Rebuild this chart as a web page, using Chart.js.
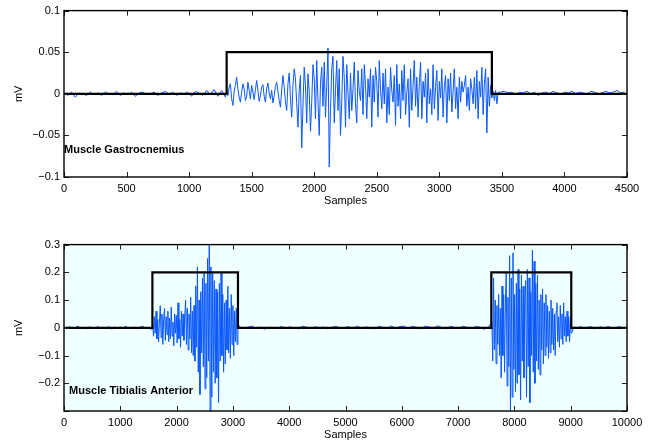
<!DOCTYPE html>
<html>
<head>
<meta charset="utf-8">
<script src="https://cdn.jsdelivr.net/npm/chart.js@4.4.0/dist/chart.umd.min.js"></script>
<style>
  html, body { margin: 0; padding: 0; background: #fff; overflow: hidden; width: 651px; height: 443px; }
  canvas { position: absolute; left: 0; }
  #top { top: 0; }
  #bottom { top: 234px; }
</style>
</head>
<body>
<canvas id="top" width="651" height="215"></canvas>
<canvas id="bottom" width="651" height="215"></canvas>
<script>
// ---- Muscle Gastrocnemius (mV), sampled segments ----
const gastroPreStart = 0, gastroPreStep = 30;
const gastroPre = [
  0.001, -0.002, 0.002, -0.004, 0.001, 0.000, -0.002, 0.002, -0.001, 0.001,
  -0.002, 0.002, 0.000, -0.001, 0.003, -0.002, 0.001, -0.001, 0.002, -0.003,
  0.001, 0.002, -0.001, 0.000, 0.002, -0.002, 0.001, 0.003, -0.001, 0.002,
  -0.002, 0.001, 0.000, 0.002, -0.003, 0.003, 0.001, -0.002, 0.004, -0.001,
  0.005, -0.003, 0.004, -0.004
];
const gastroBurstStart = 1300, gastroBurstStep = 10;
const gastroBurst = [
  0.004, -0.002, 0.008, 0.012, -0.006, -0.014, 0.003, 0.010, 0.020, 0.006,
  -0.004, -0.010, 0.002, 0.012, 0.006, -0.008, -0.003, 0.014, 0.004, -0.006,
  0.010, 0.002, -0.007, 0.005, 0.016, 0.004, -0.009, -0.002, 0.008, 0.011,
  -0.003, -0.010, 0.006, 0.013, 0.001, -0.006, 0.004, -0.011, -0.002, 0.009,
  0.014, 0.003, -0.008, -0.016, 0.005, 0.022, 0.008, -0.010, -0.020, 0.012,
  0.025, -0.005, -0.028, 0.010, 0.030, 0.018, -0.012, -0.040, 0.004, 0.022,
  -0.065, -0.015, 0.032, 0.010, -0.035, 0.024, 0.002, -0.045, -0.010, 0.035,
  0.018, -0.030, 0.040, -0.008, -0.050, 0.012, 0.032, -0.015, 0.038, -0.028,
  0.010, 0.055, -0.088, -0.020, 0.030, 0.045, -0.035, 0.005, 0.040, -0.020,
  0.030, -0.050, -0.010, 0.045, 0.020, -0.040, 0.035, 0.002, -0.030, 0.025,
  -0.020, 0.006, 0.038, -0.012, -0.035, 0.028, 0.003, -0.008, 0.030, -0.025,
  0.035, 0.010, -0.030, 0.018, -0.004, 0.030, -0.040, 0.022, -0.010, 0.032,
  0.015, -0.028, 0.040, 0.005, -0.018, 0.025, -0.012, 0.030, -0.035, 0.008,
  -0.025, 0.032, 0.004, -0.010, 0.022, -0.038, 0.035, -0.015, 0.012, -0.030,
  0.028, -0.008, 0.035, -0.025, 0.002, 0.018, -0.040, 0.030, -0.020, 0.010,
  0.040, -0.015, 0.020, -0.028, 0.012, 0.038, -0.030, 0.015, -0.004, 0.025,
  -0.035, 0.030, -0.012, 0.006, -0.025, 0.035, -0.018, 0.008, 0.028, -0.032,
  0.015, -0.005, 0.030, -0.028, 0.010, 0.022, -0.035, 0.018, -0.008, 0.025,
  -0.022, 0.004, 0.030, -0.018, 0.008, -0.030, 0.020, -0.010, 0.015, 0.002,
  0.010, 0.022, -0.015, 0.008, -0.020, 0.018, 0.005, -0.012, 0.020, -0.018,
  0.028, -0.030, 0.015, -0.004, 0.032, -0.025, 0.012, 0.030, -0.047, 0.020,
  -0.015, 0.010, -0.005, 0.003, -0.008, 0.004, -0.012, 0.002
];
const gastroPostStart = 3490, gastroPostStep = 30;
const gastroPost = [
  0.002, 0.003, 0.001, 0.002, -0.001, 0.002, 0.001, 0.003, 0.000, 0.002,
  -0.002, 0.001, 0.002, 0.000, 0.003, 0.001, -0.001, 0.002, 0.001, 0.003,
  0.000, 0.002, 0.001, -0.001, 0.003, 0.002, 0.000, 0.001, 0.003, 0.001,
  0.002, 0.004, 0.001, 0.002
];
const gastroEnvX = [0, 1300, 1300, 3420, 3420, 4500];
const gastroEnvY = [0, 0, 0.05, 0.05, 0, 0];

// ---- Muscle Tibialis Anterior (mV) ----
const tibPreStart = 0, tibPreStep = 50;
const tibPre = [
  0.002, -0.003, 0.004, -0.002, 0.001, 0.006, -0.003, 0.002, -0.004, 0.003,
  0.001, -0.002, 0.005, -0.003, 0.002, 0.000, 0.004, -0.005, 0.002, -0.001,
  0.003, -0.002, 0.006, -0.003, 0.001, 0.002, -0.004, 0.003, 0.005, -0.002,
  0.001, -0.006
];
const tibBurst1Start = 1575, tibBurst1Step = 15;
const tibBurst1 = [
  0.010, -0.030, 0.040, -0.020, 0.060, -0.040, 0.030, -0.050, 0.020, 0.080,
  -0.035, 0.050, -0.060, 0.030, 0.070, -0.045, 0.040, -0.025, 0.060, -0.050,
  0.035, -0.040, 0.075, -0.030, 0.020, -0.065, 0.050, -0.020, 0.045, -0.055,
  0.090, -0.040, 0.030, -0.070, 0.060, -0.030, 0.050, -0.045, 0.035, 0.100,
  -0.060, 0.070, -0.080, 0.050, -0.040, 0.110, -0.090, 0.060, -0.100, 0.080,
  -0.120, 0.150, -0.070, 0.220, -0.160, 0.100, -0.240, 0.130, -0.090, 0.180,
  -0.140, 0.200, -0.220, 0.160, -0.180, 0.250, -0.120, 0.300, -0.300, 0.220,
  -0.250, 0.200, -0.160, 0.170, -0.200, 0.140, -0.180, 0.130, -0.270, 0.160,
  -0.120, 0.200, -0.100, 0.120, -0.160, 0.090, -0.130, 0.100, -0.080, 0.150,
  -0.090, 0.070, -0.110, 0.120, -0.060, 0.080, -0.100, 0.060, -0.050, 0.070,
  -0.060, 0.020
];
const tibMidStart = 3110, tibMidStep = 75;
const tibMid = [
  0.004, -0.003, 0.002, 0.006, -0.002, 0.003, -0.005, 0.002, 0.001, -0.003,
  0.005, -0.002, 0.003, 0.000, -0.004, 0.006, 0.002, -0.003, 0.004, -0.001,
  0.003, -0.004, 0.002, 0.005, -0.002, 0.001, 0.004, -0.003, 0.006, -0.002,
  0.003, 0.001, -0.004, 0.005, 0.002, -0.003, 0.007, -0.002, 0.004, 0.006,
  -0.003, 0.005, 0.002, -0.004, 0.006, 0.003, -0.002, 0.007, 0.001, -0.004,
  0.005, 0.002, -0.003, 0.006, 0.001, -0.002, 0.004, 0.003, -0.005, 0.002
];
const tibBurst2Start = 7600, tibBurst2Step = 15;
const tibBurst2 = [
  0.020, -0.120, 0.180, -0.080, 0.100, -0.130, 0.080, -0.060, 0.120, -0.100,
  0.070, -0.180, 0.150, -0.100, 0.120, -0.160, 0.090, 0.200, -0.210, 0.110,
  -0.140, 0.260, -0.300, 0.180, -0.250, 0.270, -0.150, 0.120, -0.230, 0.160,
  -0.200, 0.210, -0.170, 0.140, -0.260, 0.190, -0.120, 0.150, -0.180, 0.100,
  0.170, -0.250, 0.210, -0.140, 0.180, -0.270, 0.130, -0.100, 0.280, -0.160,
  0.240, -0.200, 0.160, -0.120, 0.190, -0.150, 0.100, -0.170, 0.120, -0.080,
  0.140, -0.130, 0.090, -0.100, 0.120, -0.070, 0.080, -0.110, 0.060, -0.090,
  0.100, -0.060, 0.070, -0.080, 0.050, -0.100, 0.060, 0.090, -0.050, 0.040,
  -0.070, 0.080, -0.040, 0.050, -0.060, 0.090, -0.030, 0.040, -0.050, 0.060,
  -0.030, 0.040, -0.050, 0.030, -0.020
];
const tibPostStart = 9060, tibPostStep = 60;
const tibPost = [
  0.003, -0.002, 0.005, -0.003, 0.002, 0.004, -0.004, 0.001,
  0.003, -0.002, 0.005, 0.000, -0.003, 0.004, 0.002, -0.001
];
const tibEnvX = [0, 1570, 1570, 3090, 3090, 7590, 7590, 9010, 9010, 10000];
const tibEnvY = [0, 0, 0.2, 0.2, 0, 0, 0.2, 0.2, 0, 0];

const gastroXTicks = { min: 0, max: 4500, step: 500 };
const gastroYTicks = { min: -0.1, max: 0.1, step: 0.05 };
const tibXTicks = { min: 0, max: 10000, step: 1000 };
const tibYTicks = { min: -0.3, max: 0.3, step: 0.1 };

// helpers
function segment(start, step, values) {
  return values.map((v, i) => ({ x: start + i * step, y: v }));
}
function envelope(xs, ys) {
  return xs.map((x, i) => ({ x: x, y: ys[i] }));
}

Chart.defaults.font.family = '"Liberation Sans", Arial, Helvetica, sans-serif';
Chart.defaults.font.size = 11;
Chart.defaults.color = '#000';

// matlab-like box: background, inward ticks on all sides, border, text label
const matlabAxes = {
  id: 'matlabAxes',
  beforeDraw(chart, args, opts) {
    const a = chart.chartArea;
    if (opts.background) {
      chart.ctx.save();
      chart.ctx.fillStyle = opts.background;
      chart.ctx.fillRect(a.left, a.top, a.right - a.left, a.bottom - a.top);
      chart.ctx.restore();
    }
  },
  afterDraw(chart, args, opts) {
    const ctx = chart.ctx;
    const a = chart.chartArea;
    const xs = chart.scales.x, ys = chart.scales.y;
    const len = 5;
    ctx.save();
    ctx.strokeStyle = '#222';
    ctx.lineWidth = 1;
    ctx.beginPath();
    xs.ticks.forEach(t => {
      const px = Math.round(xs.getPixelForValue(t.value)) + 0.5;
      ctx.moveTo(px, a.bottom); ctx.lineTo(px, a.bottom - len);
      ctx.moveTo(px, a.top); ctx.lineTo(px, a.top + len);
    });
    ys.ticks.forEach(t => {
      const py = Math.round(ys.getPixelForValue(t.value)) + 0.5;
      ctx.moveTo(a.left, py); ctx.lineTo(a.left + len, py);
      ctx.moveTo(a.right, py); ctx.lineTo(a.right - len, py);
    });
    ctx.stroke();
    ctx.strokeStyle = '#000';
    ctx.lineWidth = 1.4;
    ctx.strokeRect(a.left, a.top, a.right - a.left, a.bottom - a.top);
    if (opts.label) {
      ctx.font = 'bold 11px "Liberation Sans", Arial, sans-serif';
      ctx.fillStyle = '#000';
      ctx.textBaseline = 'middle';
      ctx.textAlign = 'left';
      ctx.fillText(opts.label, xs.getPixelForValue(opts.labelX), ys.getPixelForValue(opts.labelY));
    }
    ctx.restore();
  }
};

function yFormat(hide) {
  return function (v) {
    if (hide !== undefined && Math.abs(v - hide) < 1e-9) return '';
    const r = Math.round(v * 100) / 100;
    return String(r).replace('-', '\u2212');
  };
}

function makeChart(id, signal, env, xt, yt, plugOpts, hideY) {
  return new Chart(document.getElementById(id), {
    type: 'line',
    data: {
      datasets: [
        { data: env, borderColor: '#000', borderWidth: 2.2, pointRadius: 0, tension: 0 },
        { data: signal, borderColor: '#0a58ff', borderWidth: 1, pointRadius: 0, tension: 0 }
      ]
    },
    options: {
      responsive: false,
      animation: false,
      devicePixelRatio: 1,
      layout: { padding: { top: 10, right: 24, left: 0, bottom: 0 } },
      plugins: { legend: { display: false }, tooltip: { enabled: false }, matlabAxes: plugOpts },
      scales: {
        x: {
          type: 'linear',
          min: xt.min, max: xt.max,
          grid: { display: false, drawTicks: false },
          border: { display: false },
          ticks: { stepSize: xt.step, autoSkip: false, maxRotation: 0, padding: 5, color: '#000',
                   callback: v => String(Math.round(v)) },
          title: { display: true, text: 'Samples', color: '#000', padding: { top: 0, bottom: 7 } },
          afterFit(s) { s.height = 38; }
        },
        y: {
          type: 'linear',
          min: yt.min, max: yt.max,
          grid: { display: false, drawTicks: false },
          border: { display: false },
          ticks: { stepSize: yt.step, autoSkip: false, padding: 4, color: '#000', callback: yFormat(hideY) },
          title: { display: true, text: 'mV', color: '#000', padding: { top: 12, bottom: 0 } },
          afterFit(s) { s.width = 64; }
        }
      }
    },
    plugins: [matlabAxes]
  });
}

const gastroSignal = [].concat(
  segment(gastroPreStart, gastroPreStep, gastroPre),
  segment(gastroBurstStart, gastroBurstStep, gastroBurst),
  segment(gastroPostStart, gastroPostStep, gastroPost)
);
const tibSignal = [].concat(
  segment(tibPreStart, tibPreStep, tibPre),
  segment(tibBurst1Start, tibBurst1Step, tibBurst1),
  segment(tibMidStart, tibMidStep, tibMid),
  segment(tibBurst2Start, tibBurst2Step, tibBurst2),
  segment(tibPostStart, tibPostStep, tibPost)
);

makeChart('top', gastroSignal, envelope(gastroEnvX, gastroEnvY), gastroXTicks, gastroYTicks,
  { label: 'Muscle Gastrocnemius', labelX: 0, labelY: -0.067 });
makeChart('bottom', tibSignal, envelope(tibEnvX, tibEnvY), tibXTicks, tibYTicks,
  { background: 'rgb(240,255,255)', label: 'Muscle Tibialis Anterior', labelX: 90, labelY: -0.228 }, -0.3);
</script>
</body>
</html>
